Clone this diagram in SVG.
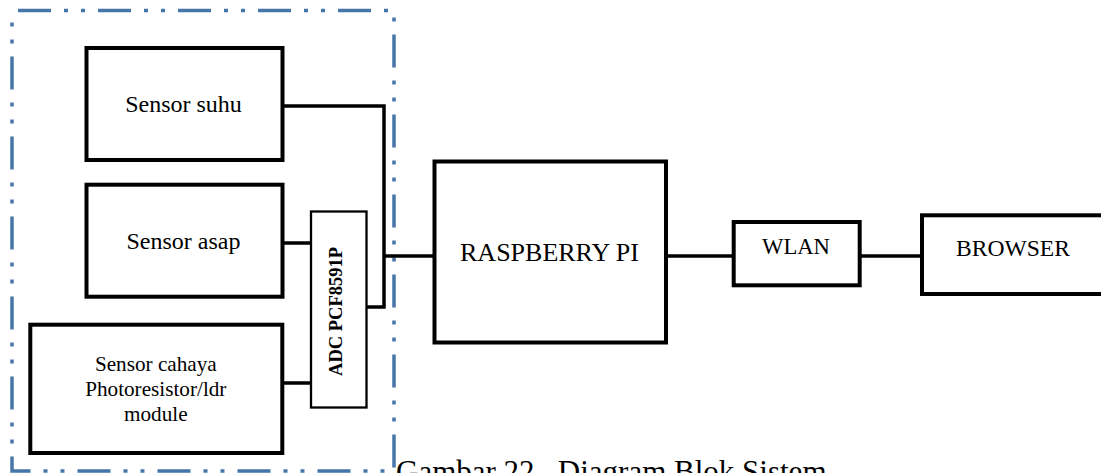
<svg xmlns="http://www.w3.org/2000/svg" width="1101" height="473" viewBox="0 0 1101 473">
<style>
  .box { fill: #ffffff; stroke: #000000; stroke-width: 4; }
  .thin { fill: #ffffff; stroke: #000000; stroke-width: 2.3; }
  .conn { fill: none; stroke: #000000; stroke-width: 3.5; stroke-linejoin: miter; }
  text { font-family: 'Liberation Serif', serif; fill: #000000; }
  .lbl { text-anchor: middle; }
  .group { fill: none; stroke: #4676a8; stroke-width: 3.5; stroke-dasharray: 33 13 4 13 4 13; stroke-dashoffset: 74; }
</style>
<rect width="1101" height="473" fill="#ffffff"/>
<g id="boundary">
  <path class="group" d="M12,10.5 H394 V471 H12 Z"/>
</g>
<g id="connectors">
  <path class="conn" d="M282.5,106 H384 V307 H367"/>
  <path class="conn" d="M384,256 H434.5"/>
  <path class="conn" d="M282.5,243 H310"/>
  <path class="conn" d="M282.5,383 H310"/>
  <path class="conn" d="M666,256 H733.7"/>
  <path class="conn" d="M859.7,256 H922"/>
</g>
<g id="sensor-suhu">
  <rect class="box" x="86.5" y="48" width="196" height="112"/>
  <text class="lbl" x="183.5" y="112" font-size="24">Sensor suhu</text>
</g>
<g id="sensor-asap">
  <rect class="box" x="86.5" y="184.7" width="196" height="112"/>
  <text class="lbl" x="183.5" y="249.3" font-size="24">Sensor asap</text>
</g>
<g id="sensor-cahaya">
  <rect class="box" x="30.3" y="324.7" width="252" height="128.3"/>
  <text class="lbl" x="155.8" y="370.7" font-size="21.2">Sensor cahaya</text>
  <text class="lbl" x="155.8" y="396" font-size="21.2">Photoresistor/ldr</text>
  <text class="lbl" x="155.8" y="420.7" font-size="21.2">module</text>
</g>
<g id="adc">
  <rect class="thin" x="311" y="211.5" width="55.5" height="196"/>
  <text class="lbl" x="0" y="0" font-size="18.5" font-weight="bold" transform="translate(342,311.5) rotate(-90)">ADC PCF8591P</text>
</g>
<g id="raspberry-pi">
  <rect class="box" x="434.5" y="161.5" width="231.5" height="181"/>
  <text class="lbl" x="549.5" y="261" font-size="26">RASPBERRY PI</text>
</g>
<g id="wlan">
  <rect class="box" x="733.7" y="222" width="126" height="63.3"/>
  <text class="lbl" x="796" y="254" font-size="22.7">WLAN</text>
</g>
<g id="browser">
  <rect class="box" x="922" y="215.3" width="200" height="78.7"/>
  <text class="lbl" x="1013" y="256" font-size="23.6">BROWSER</text>
</g>
<g id="caption">
  <text x="396" y="481.5" font-size="31" xml:space="preserve">Gambar 22.  Diagram Blok Sistem</text>
</g>
</svg>
